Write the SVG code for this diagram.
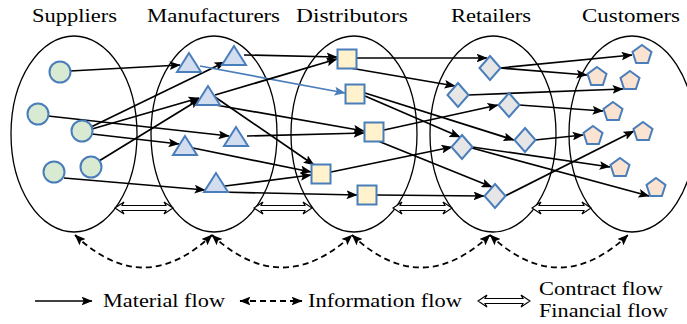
<svg xmlns="http://www.w3.org/2000/svg" width="687" height="324" viewBox="0 0 687 324">
<style>
.ell{fill:none;stroke:#000;stroke-width:1.3}
.sup{fill:#d9ead3;stroke:#4a7ebb;stroke-width:2}
.man{fill:#d2ddf0;stroke:#4a7ebb;stroke-width:2}
.dis{fill:#fff2cc;stroke:#4a7ebb;stroke-width:2}
.ret{fill:#e6e6e6;stroke:#4a7ebb;stroke-width:2}
.cus{fill:#fbe3d2;stroke:#4a7ebb;stroke-width:2}
.flow{fill:none;stroke:#000;stroke-width:1.7;marker-end:url(#ah)}
.blue{fill:none;stroke:#4a7ebb;stroke-width:1.7;marker-end:url(#ahb)}
.info{fill:none;stroke:#000;stroke-width:1.8;stroke-dasharray:6 4;marker-start:url(#ahi);marker-end:url(#ahi)}
.contract{fill:#fff;stroke:#000;stroke-width:1.1}
.lbl{font-family:"Liberation Serif","Times New Roman",serif;font-size:19.5px;fill:#000}
</style>
<defs>
<marker id="ah" viewBox="0 0 10 8" refX="9.5" refY="4" markerWidth="11" markerHeight="8.8" markerUnits="userSpaceOnUse" orient="auto"><path d="M0,0 L10,4 L0,8 L2,4 Z" fill="#000"/></marker>
<marker id="ahb" viewBox="0 0 10 8" refX="9.5" refY="4" markerWidth="11" markerHeight="8.8" markerUnits="userSpaceOnUse" orient="auto"><path d="M0,0 L10,4 L0,8 L2,4 Z" fill="#4a7ebb"/></marker>
<marker id="ahi" viewBox="0 0 10 8" refX="9.5" refY="4" markerWidth="11" markerHeight="8.8" markerUnits="userSpaceOnUse" orient="auto-start-reverse"><path d="M0,0 L10,4 L0,8 L2,4 Z" fill="#000"/></marker>
</defs>

<g id="titles" class="lbl" text-anchor="middle">
<text x="74.5" y="22" textLength="85" lengthAdjust="spacingAndGlyphs">Suppliers</text>
<text x="213.5" y="22" textLength="133" lengthAdjust="spacingAndGlyphs">Manufacturers</text>
<text x="352" y="22" textLength="112" lengthAdjust="spacingAndGlyphs">Distributors</text>
<text x="491" y="22" textLength="80" lengthAdjust="spacingAndGlyphs">Retailers</text>
<text x="631" y="22" textLength="98" lengthAdjust="spacingAndGlyphs">Customers</text>
</g>

<g id="tiers">
<ellipse class="ell" cx="74" cy="134" rx="63" ry="98"/>
<ellipse class="ell" cx="214" cy="134" rx="63" ry="98"/>
<ellipse class="ell" cx="354" cy="134" rx="63" ry="98"/>
<ellipse class="ell" cx="493" cy="134" rx="63" ry="98"/>
<ellipse class="ell" cx="632" cy="134" rx="63" ry="98"/>
</g>

<g id="connectors">
<path class="flow" d="M70 71 L180 65"/>
<path class="flow" d="M48 116 L229 136"/>
<path class="flow" d="M91 127 L225 62"/>
<path class="flow" d="M92 129 L199 98"/>
<path class="flow" d="M99 161 L200 99"/>
<path class="flow" d="M92 134 L179 144"/>
<path class="flow" d="M64 178 L205 190"/>
<path class="blue" d="M200 66 L345 93"/>
<path class="flow" d="M244 55 L337 57"/>
<path class="flow" d="M215 95 L337 59"/>
<path class="flow" d="M215 97 L314 165"/>
<path class="flow" d="M210 104 L364 131"/>
<path class="flow" d="M247 136 L364 133"/>
<path class="flow" d="M193 148 L311 172"/>
<path class="flow" d="M225 186 L311 175"/>
<path class="flow" d="M220 192 L357 195"/>
<path class="flow" d="M357 58 L487 58"/>
<path class="flow" d="M350 68 L455 86"/>
<path class="flow" d="M365 96 L460 137"/>
<path class="flow" d="M365 93 L514 140"/>
<path class="flow" d="M384 130 L498 105"/>
<path class="flow" d="M378 141 L492 187"/>
<path class="flow" d="M331 172 L452 147"/>
<path class="flow" d="M377 195 L484 196"/>
<path class="flow" d="M500 68 L632 55"/>
<path class="flow" d="M500 68 L587 75"/>
<path class="flow" d="M468 95 L623 89"/>
<path class="flow" d="M519 105 L603 111"/>
<path class="flow" d="M535 140 L583 135"/>
<path class="flow" d="M472 147 L610 167"/>
<path class="flow" d="M472 148 L649 196"/>
<path class="flow" d="M505 196 L634 131"/>
<path class="contract" d="M115 208 L124 202 L122 205.5 L166 205.5 L164 202 L173 208 L164 214 L166 210.5 L122 210.5 L124 214 Z"/>
<path class="contract" d="M254 208 L263 202 L261 205.5 L305 205.5 L303 202 L312 208 L303 214 L305 210.5 L261 210.5 L263 214 Z"/>
<path class="contract" d="M393 208 L402 202 L400 205.5 L445 205.5 L443 202 L452 208 L443 214 L445 210.5 L400 210.5 L402 214 Z"/>
<path class="contract" d="M532 208 L541 202 L539 205.5 L584 205.5 L582 202 L591 208 L582 214 L584 210.5 L539 210.5 L541 214 Z"/>
<path class="info" d="M75 235 Q143.5 300 212 235"/>
<path class="info" d="M212 235 Q282 300 352 235"/>
<path class="info" d="M352 235 Q421 300 490 235"/>
<path class="info" d="M490 235 Q559 300 628 235"/>
</g>

<g id="S1"><circle class="sup" cx="60" cy="72" r="10.5"/></g>
<g id="S2"><circle class="sup" cx="38" cy="114" r="10.5"/></g>
<g id="S3"><circle class="sup" cx="82" cy="131" r="10.5"/></g>
<g id="S4"><circle class="sup" cx="91" cy="167" r="10.5"/></g>
<g id="S5"><circle class="sup" cx="54" cy="172" r="10.5"/></g>

<g id="M1"><polygon class="man" points="189,53 177,72 201,72"/></g>
<g id="M2"><polygon class="man" points="234,46 222,65 246,65"/></g>
<g id="M3"><polygon class="man" points="208,86 196,105 220,105"/></g>
<g id="M4"><polygon class="man" points="236,127 224,146 248,146"/></g>
<g id="M5"><polygon class="man" points="185,136 173,155 197,155"/></g>
<g id="M6"><polygon class="man" points="216,173 204,192 228,192"/></g>

<g id="D1"><rect class="dis" x="337.5" y="49.5" width="19" height="19"/></g>
<g id="D2"><rect class="dis" x="345.5" y="84.5" width="19" height="19"/></g>
<g id="D3"><rect class="dis" x="364.5" y="122.5" width="19" height="19"/></g>
<g id="D4"><rect class="dis" x="311.5" y="164.5" width="19" height="19"/></g>
<g id="D5"><rect class="dis" x="357.5" y="185.5" width="19" height="19"/></g>

<g id="R1"><polygon class="ret" points="490,56 500.5,68 490,80 479.5,68"/></g>
<g id="R2"><polygon class="ret" points="458,83 468.5,95 458,107 447.5,95"/></g>
<g id="R3"><polygon class="ret" points="509,93 519.5,105 509,117 498.5,105"/></g>
<g id="R4"><polygon class="ret" points="462,135 472.5,147 462,159 451.5,147"/></g>
<g id="R5"><polygon class="ret" points="495,184 505.5,196 495,208 484.5,196"/></g>
<g id="R6"><polygon class="ret" points="525,128 535.5,140 525,152 514.5,140"/></g>

<g id="C1" transform="translate(642,55)"><polygon class="cus" points="0,-10 9.51,-3.09 5.88,8.09 -5.88,8.09 -9.51,-3.09"/></g>
<g id="C2" transform="translate(597,77)"><polygon class="cus" points="0,-10 9.51,-3.09 5.88,8.09 -5.88,8.09 -9.51,-3.09"/></g>
<g id="C3" transform="translate(630,81)"><polygon class="cus" points="0,-10 9.51,-3.09 5.88,8.09 -5.88,8.09 -9.51,-3.09"/></g>
<g id="C4" transform="translate(613,112)"><polygon class="cus" points="0,-10 9.51,-3.09 5.88,8.09 -5.88,8.09 -9.51,-3.09"/></g>
<g id="C5" transform="translate(643,132)"><polygon class="cus" points="0,-10 9.51,-3.09 5.88,8.09 -5.88,8.09 -9.51,-3.09"/></g>
<g id="C6" transform="translate(593,136)"><polygon class="cus" points="0,-10 9.51,-3.09 5.88,8.09 -5.88,8.09 -9.51,-3.09"/></g>
<g id="C7" transform="translate(620,168)"><polygon class="cus" points="0,-10 9.51,-3.09 5.88,8.09 -5.88,8.09 -9.51,-3.09"/></g>
<g id="C8" transform="translate(656,188)"><polygon class="cus" points="0,-10 9.51,-3.09 5.88,8.09 -5.88,8.09 -9.51,-3.09"/></g>

<g id="legend">
<path class="flow" d="M35 301 L92 301"/>
<text class="lbl" x="103" y="307" textLength="122" lengthAdjust="spacingAndGlyphs">Material flow</text>
<path class="info" d="M240 301 L302 301"/>
<text class="lbl" x="308" y="307" textLength="154" lengthAdjust="spacingAndGlyphs">Information flow</text>
<path class="contract" d="M478 301 L487 295 L485 298.5 L523 298.5 L521 295 L530 301 L521 307 L523 303.5 L485 303.5 L487 307 Z"/>
<text class="lbl" x="539" y="295" textLength="124" lengthAdjust="spacingAndGlyphs">Contract flow</text>
<text class="lbl" x="539" y="317" textLength="129" lengthAdjust="spacingAndGlyphs">Financial flow</text>
</g>
</svg>
